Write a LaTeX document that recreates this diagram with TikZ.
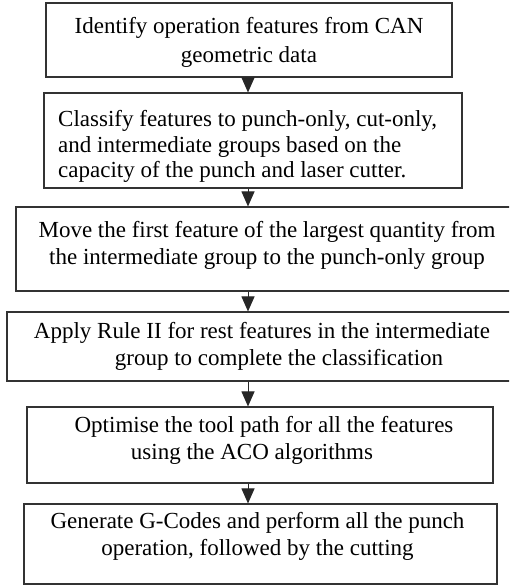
\documentclass[tikz,border=0pt]{standalone}
\usepackage{fontspec}
\setmainfont{Liberation Serif}
\usetikzlibrary{arrows.meta}
\begin{document}
\begin{tikzpicture}[x=1pt,y=-1pt,
  boxline/.style={draw=black!80, line width=1.1pt, inner sep=0pt},
  txt/.style={inner sep=0pt, anchor=north, align=center},
  flow/.style={draw=black!85, line width=1pt, -{Triangle[width=13pt,length=15pt]}}]
\useasboundingbox (0,0) rectangle (509,585);
\clip (0,0) rectangle (509,585);
\node[boxline, minimum width=406pt, minimum height=74pt] (b1) at (249,40) {};
\node[boxline, minimum width=418pt, minimum height=95pt] (b2) at (253,140.5) {};
\node[boxline, minimum width=504pt, minimum height=84pt] (b3) at (268,249) {};
\node[boxline, minimum width=513pt, minimum height=69pt] (b4) at (263.5,346.5) {};
\node[boxline, minimum width=466pt, minimum height=76pt] (b5) at (260,445) {};
\node[boxline, minimum width=473pt, minimum height=80pt] (b6) at (260.5,544) {};
\node[txt, font=\fontsize{23}{28.5}\selectfont] (t1) at (249,17.3)
  {Identify operation features from CAN\\geometric data};
\node[txt, anchor=north west, align=left, font=\fontsize{23}{25.5}\selectfont] (t2) at (58,110.3)
  {Classify features to punch-only, cut-only,\\and intermediate groups based on the\\capacity of the punch and laser cutter.};
\node[txt, font=\fontsize{23}{27}\selectfont] (t3) at (267,221.3)
  {Move the first feature of the largest quantity from\\the intermediate group to the punch-only group};
\node[txt, font=\fontsize{23}{27}\selectfont] (t4) at (262,322.3)
  {Apply Rule II for rest features in the intermediate\\\hspace*{34pt}group to complete the classification};
\node[txt, font=\fontsize{23}{27}\selectfont] (t5) at (264,416.3)
  {Optimise the tool path for all the features\\using the ACO algorithms\hspace*{24pt}};
\node[txt, font=\fontsize{23}{27}\selectfont] (t6) at (257.5,512.3)
  {Generate G-Codes and perform all the punch\\operation, followed by the cutting};
\coordinate (ax) at (248,0);
\draw[flow] (b1.south -| ax) -- (b2.north -| ax);
\draw[flow] (b2.south -| ax) -- (b3.north -| ax);
\draw[flow] (b3.south -| ax) -- (b4.north -| ax);
\draw[flow] (b4.south -| ax) -- (b5.north -| ax);
\draw[flow] (b5.south -| ax) -- (b6.north -| ax);
\end{tikzpicture}
\end{document}
